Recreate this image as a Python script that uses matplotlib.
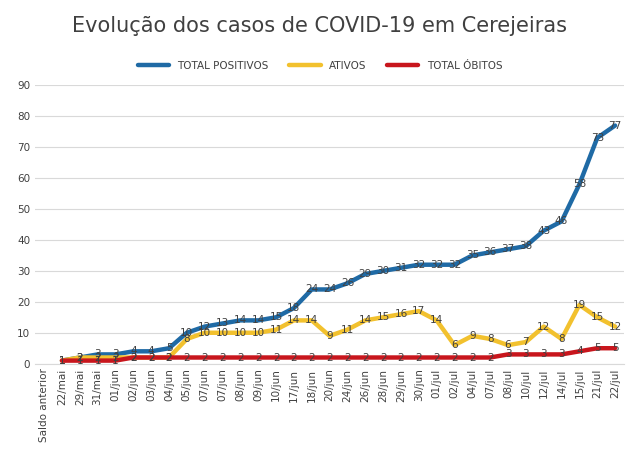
import matplotlib
matplotlib.use("Agg")
import matplotlib.pyplot as plt
import numpy as np

labels = ["Saldo anterior","22/mai","29/mai","31/mai","01/jun","02/jun","03/jun","04/jun","05/jun","07/jun","07/jun","08/jun","09/jun","10/jun","17/jun","18/jun","20/jun","24/jun","26/jun","28/jun","29/jun","30/jun","01/jul","02/jul","04/jul","07/jul","08/jul","10/jul","12/jul","14/jul","15/jul","21/jul","22/jul"]
positivos = [None,1,2,3,3,4,4,5,10,12,13,14,14,15,18,24,24,26,29,30,31,32,32,32,35,36,37,38,43,46,58,73,77]
ativos = [None,1,2,2,2,2,2,2,8,10,10,10,10,11,14,14,9,11,14,15,16,17,14,6,9,8,6,7,12,8,19,15,12]
obitos = [None,1,1,1,1,2,2,2,2,2,2,2,2,2,2,2,2,2,2,2,2,2,2,2,2,2,3,3,3,3,4,5,5]

fig = plt.figure(figsize=(6.4,4.49), dpi=100)
ax = fig.add_axes([0.055, 0.19, 0.92, 0.62])
x = np.arange(len(labels))
def arr(v): return np.array([np.nan if a is None else a for a in v], float)
series = [("TOTAL POSITIVOS", positivos, "#1f6aa5"), ("ATIVOS", ativos, "#f2c12e"), ("TOTAL ÓBITOS", obitos, "#c8161d")]
for name, v, c in series:
    ax.plot(x, arr(v), color=c, lw=3.2, label=name, solid_capstyle="round")
for name, v, c in series:
    for xi, yi in zip(x, arr(v)):
        if not np.isnan(yi):
            ax.text(xi, yi, f"{int(yi)}", ha="center", va="center", fontsize=7.5, color="#404040")
ax.set_ylim(0, 90)
ax.set_yticks(range(0, 91, 10))
ax.set_xlim(-0.5, len(labels)-0.5)
ax.set_xticks(x)
ax.set_xticklabels(labels, rotation=90, fontsize=7.5, color="#404040")
ax.tick_params(axis="y", labelsize=7.5, colors="#404040", length=0)
ax.tick_params(axis="x", length=0)
ax.grid(axis="y", color="#d9d9d9", lw=0.8)
ax.set_axisbelow(True)
for s in ["top","right","left"]:
    ax.spines[s].set_visible(False)
ax.spines["bottom"].set_color("#d9d9d9")
fig.suptitle("Evolução dos casos de COVID-19 em Cerejeiras", y=0.965, fontsize=15, color="#404040")
fig.legend(loc="upper center", bbox_to_anchor=(0.5, 0.885), ncol=3, frameon=False, fontsize=7.5, labelcolor="#404040", handlelength=3)
fig.savefig("out.png", dpi=100)
